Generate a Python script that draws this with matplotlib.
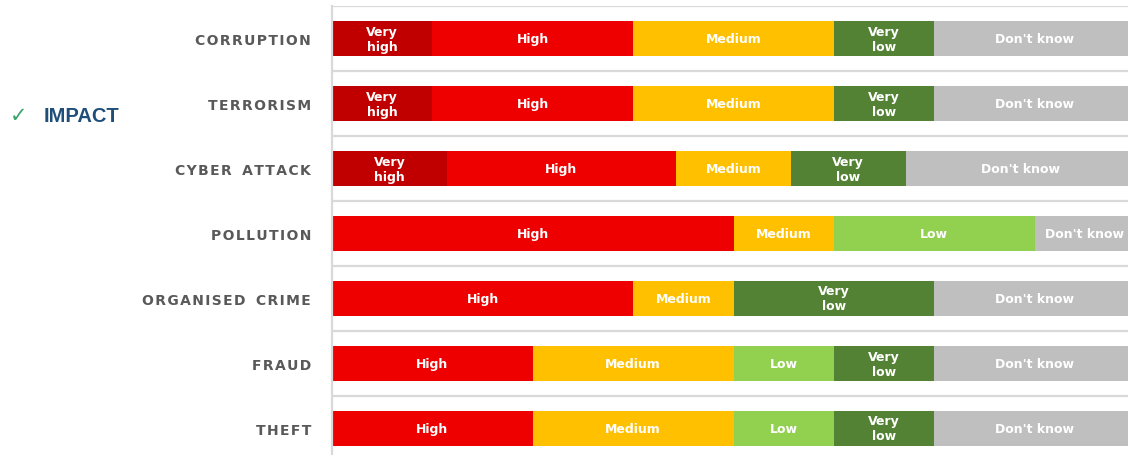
import matplotlib.pyplot as plt
import numpy as np

# survey answers per threat (number of respondents)
threats = ['CORRUPTION', 'TERRORISM', 'CYBER ATTACK', 'POLLUTION',
           'ORGANISED CRIME', 'FRAUD', 'THEFT']
levels = ['Very\nhigh', 'High', 'Medium', 'Low', 'Very\nlow', "Don't know"]
very_high = [1, 1, 1, 0, 0, 0, 0]
high = [2, 2, 2, 4, 3, 2, 2]
medium = [2, 2, 1, 1, 1, 2, 2]
low = [0, 0, 0, 2, 0, 1, 1]
very_low = [1, 1, 1, 0, 2, 1, 1]
dont_know = [2, 2, 2, 1, 2, 2, 2]

colors = ['#c00000', '#ee0000', '#ffc000', '#92d050', '#548235', '#bfbfbf']


def spaced(word):
    """ Mimics the letter spacing of the category labels """
    return '\u200a'.join(word).replace('\u200a \u200a', '\u2009 \u2009')


counts = np.array([very_high, high, medium, low, very_low, dont_know], dtype=float)
shares = counts / counts.sum(axis=0) * 100

fig = plt.figure(figsize=(11.28, 4.56), dpi=100)
ax = fig.add_axes([332 / 1128, -6 / 456, 803 / 1128, 455 / 456])

y = np.arange(len(threats))
left = np.zeros(len(threats))
for level, share, color in zip(levels, shares, colors):
    ax.barh(y, share, left=left, height=0.55, color=color, edgecolor='none', zorder=2)
    for yi, (l, s) in enumerate(zip(left, share)):
        if s > 0:
            ax.text(l + s / 2, yi, level, ha='center', va='center', color='white',
                    fontsize=9, fontweight='bold', linespacing=1.2, zorder=3)
    left += share

ax.set_xlim(0, 100)
ax.set_ylim(len(threats) - 0.5, -0.5)

# row separators
for yy in np.arange(-0.5, len(threats) + 0.5):
    ax.axhline(yy, color='#d9d9d9', linewidth=1.6, zorder=1)

for side in ['top', 'right', 'bottom']:
    ax.spines[side].set_visible(False)
ax.spines['left'].set_color('#d9d9d9')
ax.spines['left'].set_linewidth(1.6)

ax.set_xticks([])
ax.set_yticks(y)
ax.set_yticklabels([spaced(t) for t in threats], fontsize=10, fontweight='bold', color='#595959')
ax.tick_params(axis='y', length=0, pad=15)

fig.text(10 / 1128, 1 - 116 / 456, '\u2713', color='#3aa56b', fontsize=15, va='center')
fig.text(44 / 1128, 1 - 117 / 456, 'IMPACT', color='#1f4e79', fontsize=14.5, fontweight='bold',
         va='center', family=['Liberation Sans', 'DejaVu Sans'])

fig.savefig('out.png', dpi=100)
